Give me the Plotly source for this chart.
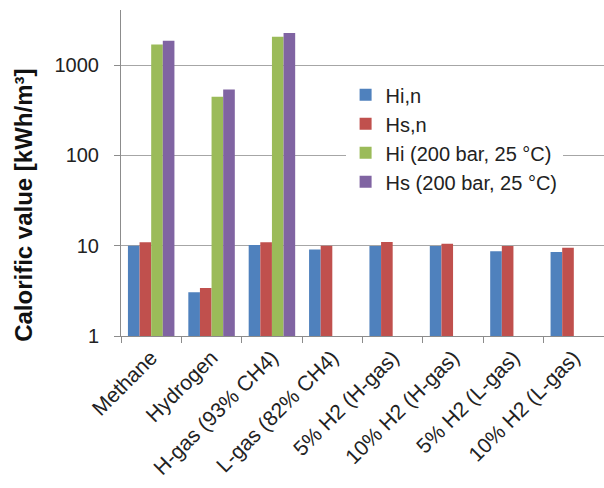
import plotly.graph_objects as go

categories = ["Methane", "Hydrogen", "H-gas (93% CH4)", "L-gas (82% CH4)",
              "5% H2 (H-gas)", "10% H2 (H-gas)", "5% H2 (L-gas)", "10% H2 (L-gas)"]

hi_n = [9.97, 3.05, 10.2, 9.1, 9.95, 9.95, 8.7, 8.5]
hs_n = [10.9, 3.4, 10.9, 10.0, 11.0, 10.5, 9.95, 9.5]
hi_200 = [1694, 446, 2055, None, None, None, None, None]
hs_200 = [1858, 538, 2260, None, None, None, None, None]

series = [
    ("Hi,n", hi_n, "#4F81BD"),
    ("Hs,n", hs_n, "#C0504D"),
    ("Hi (200 bar, 25 °C)", hi_200, "#9BBB59"),
    ("Hs (200 bar, 25 °C)", hs_200, "#8064A2"),
]

y_tickvals = [1, 10, 100, 1000]
y_ticktext = ["1", "10", "100", "1000"]

fig = go.Figure()
for name, vals, color in series:
    fig.add_trace(go.Bar(
        x=categories, y=vals, name=name,
        marker=dict(color=color, line=dict(width=0)),
    ))

fig.update_layout(
    width=604, height=488,
    margin=dict(l=121, r=0, t=10, b=152),
    paper_bgcolor="white", plot_bgcolor="white",
    barmode="group", bargap=0.23, bargroupgap=0,
    font=dict(family="Liberation Sans, Arial, sans-serif", size=20, color="#222222"),
    showlegend=True,
    legend=dict(
        x=0.465, y=0.80, xanchor="left", yanchor="top",
        bgcolor="white", borderwidth=0,
        font=dict(size=20, color="#222222"),
        traceorder="normal", itemwidth=30,
    ),
    annotations=[dict(
        text="<b>Calorific value [kWh/m³]</b>",
        xref="paper", yref="paper", x=-0.201, y=0.402,
        xanchor="center", yanchor="middle", textangle=-90,
        showarrow=False, font=dict(size=24, color="#111111"),
    )],
)

fig.update_xaxes(
    type="category", tickangle=-45, automargin=False,
    showline=True, linecolor="#8c8c8c", linewidth=1,
    ticks="outside", tickson="boundaries", ticklen=6, tickcolor="#8c8c8c",
    showgrid=False, tickfont=dict(size=21, color="#222222"),
)
fig.update_yaxes(
    type="log", range=[0, 3.61], automargin=False,
    tickvals=y_tickvals, ticktext=y_ticktext,
    showline=True, linecolor="#8c8c8c", linewidth=1,
    ticks="outside", ticklen=6, tickcolor="#8c8c8c",
    showgrid=True, gridcolor="#a6a6a6", gridwidth=1,
    zeroline=False, tickfont=dict(size=20, color="#222222"),
    ticklabelstandoff=11,
)

fig.write_html("out.html")
